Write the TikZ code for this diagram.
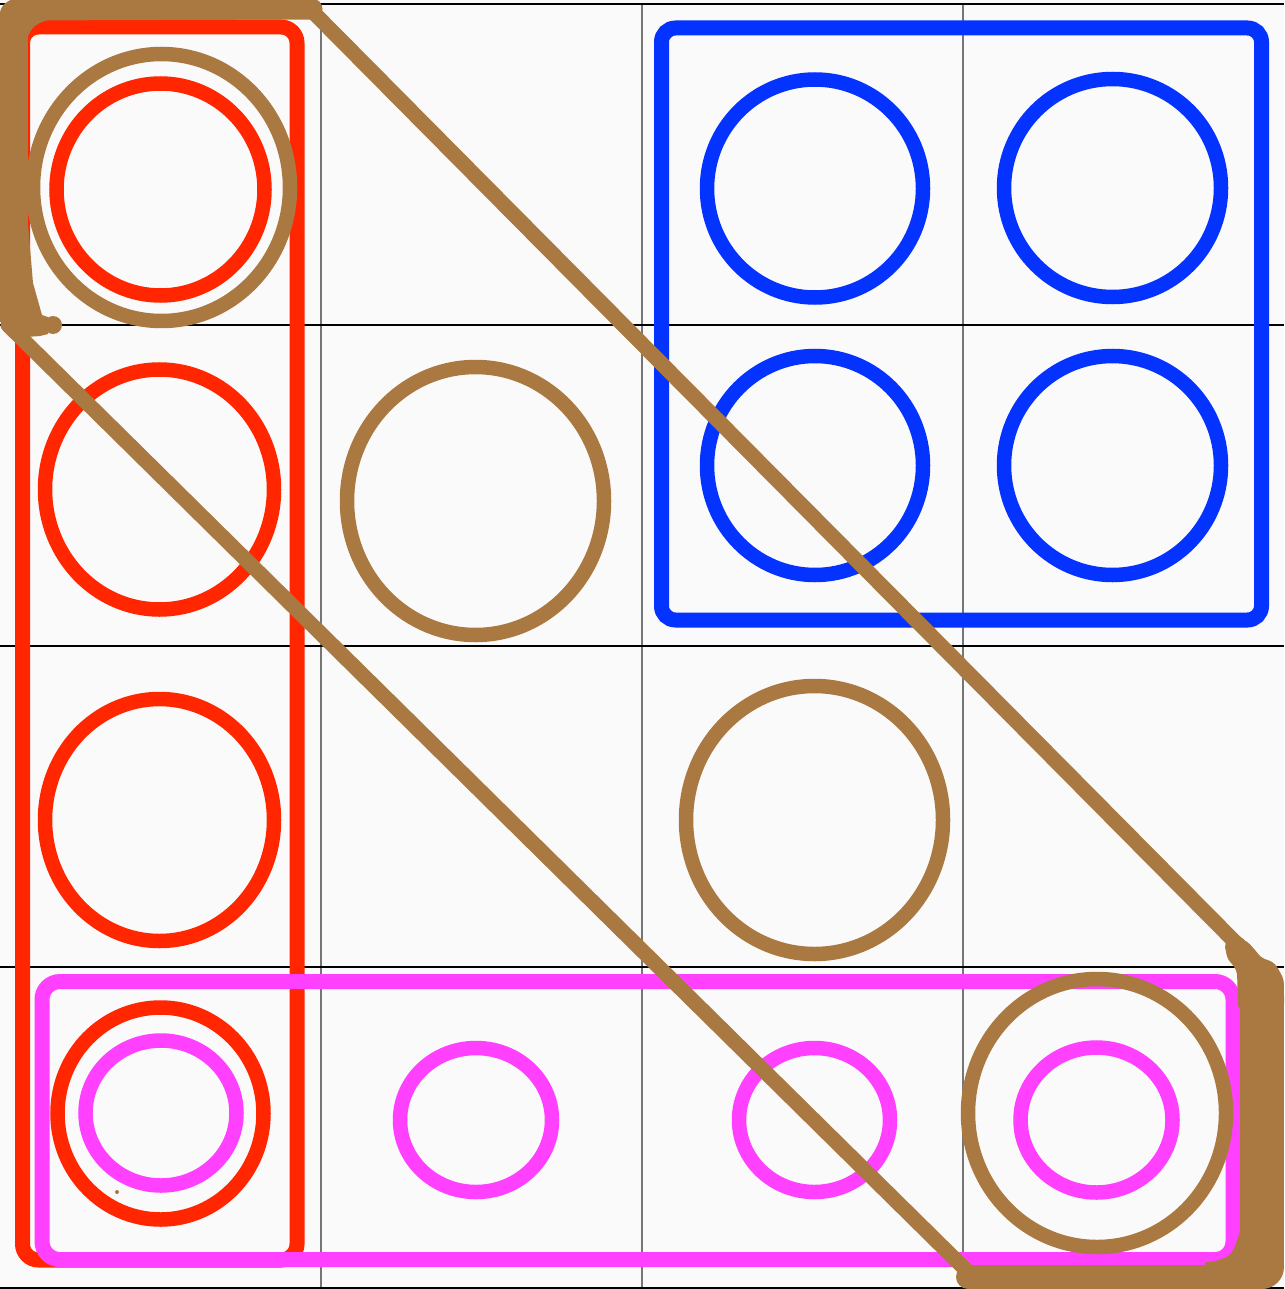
\documentclass[tikz,border=0pt]{standalone}
\definecolor{bg}{HTML}{FAFAFA}
\definecolor{cred}{HTML}{FF2600}
\definecolor{cblue}{HTML}{0433FF}
\definecolor{cmag}{HTML}{FF40FF}
\definecolor{cbrown}{HTML}{AA7942}
\definecolor{cgray}{HTML}{767676}
\begin{document}
\begin{tikzpicture}[x=1pt,y=-1pt,
  ring/.style={line width=14.5pt},
  box/.style={line width=15pt},
  hline/.style={black,line width=1.3pt},
  vline/.style={cgray,line width=2pt},
  stroke/.style={cbrown,line cap=round,line join=round}]
\fill[bg] (0,0) rectangle (1284,1289);
\useasboundingbox (0,0) rectangle (1284,1289);
% grid
\foreach \x in {320.5,641.5,962.5} \draw[vline] (\x,4) -- (\x,1288);
\foreach \y in {4,325,646,967,1288} \draw[hline] (0,\y) -- (1284,\y);
% group boxes
\draw[box,cred,rounded corners=16pt] (22.5,27) rectangle (297,1260);
\draw[box,cmag,rounded corners=18pt] (42,981.5) rectangle (1233,1259.5);
\draw[box,cblue,rounded corners=14pt] (661.5,28) rectangle (1261.5,620);
% red rings
\draw[ring,cred] (160.5,189.5) ellipse [x radius=104pt, y radius=106pt];
\draw[ring,cred] (159.5,489.5) ellipse [x radius=114.5pt, y radius=120pt];
\draw[ring,cred] (159.5,820) ellipse [x radius=114.5pt, y radius=121pt];
\draw[ring,cred] (160.5,1113.5) ellipse [x radius=103pt, y radius=106pt];
% blue rings
\draw[ring,cblue] (815,188.5) ellipse [x radius=108pt, y radius=109pt];
\draw[ring,cblue] (1112.5,188) ellipse [x radius=108.5pt, y radius=109pt];
\draw[ring,cblue] (815,465.5) ellipse [x radius=108pt, y radius=109.5pt];
\draw[ring,cblue] (1112.5,465.5) ellipse [x radius=108.5pt, y radius=109.5pt];
% magenta rings
\draw[ring,cmag] (161,1113) ellipse [x radius=75.5pt, y radius=72.5pt];
\draw[ring,cmag] (476,1120) ellipse [x radius=76pt, y radius=72pt];
\draw[ring,cmag] (814.5,1120) ellipse [x radius=75.5pt, y radius=72pt];
\draw[ring,cmag] (1096.5,1120) ellipse [x radius=76pt, y radius=72.5pt];
% brown rings
\draw[ring,cbrown] (161.5,187.5) ellipse [x radius=128.5pt, y radius=133.5pt];
\draw[ring,cbrown] (475.5,501) ellipse [x radius=128.5pt, y radius=134pt];
\draw[ring,cbrown] (814.5,820) ellipse [x radius=128.5pt, y radius=134pt];
\draw[ring,cbrown] (1097,1113) ellipse [x radius=129pt, y radius=134pt];
\fill[cbrown] (117,1192) circle[radius=2pt];
% brown freehand band
\draw[stroke,line width=21pt] (14,10) -- (312,9);
\draw[stroke,line width=28pt] (14,14) -- (14,250);
\fill[cbrown] (0,200) -- (26,200) -- (33,283) -- (42,315) -- (48,317) -- (48,334) -- (40,336) -- (12,338) -- (2,322) -- (0,322) -- cycle;
\fill[cbrown] (53,325) circle[radius=9pt];
\fill[cbrown] (27,19) -- (55,19) .. controls (38,21) and (30,27) .. (27,40) -- cycle;
\draw[stroke,line width=15pt] (311,10) -- (1236,943);
\draw[stroke,line width=15pt] (8,325) -- (968,1272);
\fill[cbrown] (1236,947) circle[radius=11pt];
\fill[cbrown,rounded corners=6pt] (1226,946) -- (1234,937) -- (1246,940) -- (1256,951) -- (1262,959) -- (1273,961) -- (1281,973) -- (1284,990) -- (1284,1010) -- (1238,1010) -- (1237,970) -- (1226,957) -- cycle;
\draw[stroke,line width=44pt] (1262,985) -- (1262,1267);
\draw[stroke,line width=24pt] (968,1277) -- (1262,1277);
\fill[cbrown] (1241,1228) -- (1241,1275) -- (1205,1275) -- (1205,1262) -- (1215,1261) .. controls (1232,1256) .. (1241,1228) -- cycle;
\end{tikzpicture}
\end{document}
